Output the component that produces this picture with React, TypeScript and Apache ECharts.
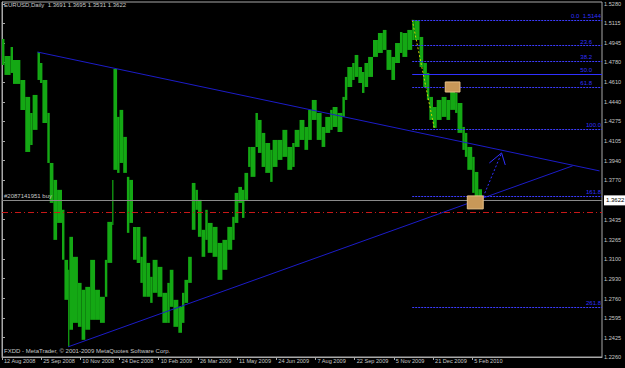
import React, { useEffect, useRef } from "react";
import * as echarts from "echarts";

// ---- price data (grouped daily bars: start bar index, high, low) ----
const barStart = [
  0, 2, 7, 9, 15, 19, 23, 25, 29, 31, 33, 37, 39, 42, 45, 49, 51, 54, 55, 58,
  62, 65, 68, 72, 76, 80, 84, 86, 90, 91, 94, 96, 99, 102, 104, 107, 110, 113, 115, 118,
  121, 123, 127, 131, 135, 137, 140, 144, 147, 149, 152, 155, 158, 160, 163, 166, 168, 172, 176, 180,
  184, 188, 190, 193, 196, 198, 201, 203, 207, 209, 212, 215, 219, 221, 225, 229, 233, 237, 239, 243,
  247, 250, 253, 257, 261, 264, 268, 270, 274, 278, 280, 282, 286, 288, 291, 294, 296, 299, 303, 307,
  311, 314, 318, 321, 325, 327, 331, 335, 337, 341, 344, 347, 349, 352, 355, 359, 363, 366, 370, 372,
  376, 378, 380, 384, 386, 389,
];
const lastBarEnd = 392;
const highs = [
  1.4981, 1.4835, 1.4912, 1.4801, 1.4630, 1.4485, 1.4348, 1.4502, 1.4869, 1.4775, 1.4630, 1.4348, 1.3920, 1.3775, 1.3690, 1.3519, 1.3091, 1.3006, 1.3288, 1.3117,
  1.2894, 1.2835, 1.2860, 1.3091, 1.2835, 1.2775, 1.3091, 1.3416, 1.3775, 1.4724, 1.4314, 1.4374, 1.4143, 1.3801, 1.3775, 1.3373, 1.3373, 1.3117, 1.3288, 1.3065,
  1.2946, 1.3091, 1.3031, 1.2809, 1.2894, 1.3006, 1.2749, 1.2689, 1.2809, 1.2920, 1.3117, 1.3749, 1.3690, 1.3604, 1.3348, 1.3519, 1.3407, 1.3373, 1.3236, 1.3262,
  1.3373, 1.3459, 1.3664, 1.3715, 1.3690, 1.3835, 1.4057, 1.4057, 1.4348, 1.4288, 1.4177, 1.4091, 1.4032, 1.4117, 1.4117, 1.4203, 1.4057, 1.4091, 1.4203, 1.4288,
  1.4228, 1.4374, 1.4459, 1.4348, 1.4228, 1.4314, 1.4374, 1.4399, 1.4348, 1.4485, 1.4656, 1.4741, 1.4775, 1.4844, 1.4741, 1.4698, 1.4775, 1.4827, 1.4972, 1.5032,
  1.5058, 1.4887, 1.4827, 1.4946, 1.5040, 1.5032, 1.5058, 1.5144, 1.5140, 1.4998, 1.4775, 1.4690, 1.4485, 1.4399, 1.4459, 1.4485, 1.4459, 1.4545, 1.4519, 1.4433,
  1.4228, 1.4177, 1.4057, 1.3972, 1.3843, 1.3695,
];
const lows = [
  1.4758, 1.4673, 1.4690, 1.4596, 1.4374, 1.4014, 1.4074, 1.4203, 1.4630, 1.4604, 1.4262, 1.3920, 1.3578, 1.3262, 1.3407, 1.3091, 1.2749, 1.2347, 1.2493, 1.2552,
  1.2518, 1.2407, 1.2493, 1.2578, 1.2578, 1.2552, 1.2775, 1.3065, 1.3390, 1.3861, 1.3835, 1.3920, 1.3835, 1.3322, 1.3407, 1.3091, 1.3065, 1.2894, 1.2775, 1.2775,
  1.2723, 1.2809, 1.2775, 1.2552, 1.2552, 1.2689, 1.2518, 1.2467, 1.2552, 1.2723, 1.2894, 1.3348, 1.3519, 1.3288, 1.3117, 1.3262, 1.3151, 1.3117, 1.2920, 1.3006,
  1.3177, 1.3262, 1.3407, 1.3578, 1.3450, 1.3604, 1.3886, 1.3801, 1.4057, 1.4006, 1.3886, 1.3835, 1.3758, 1.3886, 1.3946, 1.3972, 1.3861, 1.3886, 1.4057, 1.4117,
  1.4032, 1.4117, 1.4288, 1.4117, 1.4057, 1.4177, 1.4203, 1.4228, 1.4185, 1.4314, 1.4459, 1.4570, 1.4630, 1.4656, 1.4604, 1.4519, 1.4570, 1.4656, 1.4827, 1.4861,
  1.4887, 1.4716, 1.4630, 1.4775, 1.4861, 1.4827, 1.4887, 1.4972, 1.4972, 1.4741, 1.4570, 1.4459, 1.4288, 1.4220, 1.4288, 1.4314, 1.4288, 1.4374, 1.4348, 1.4177,
  1.4032, 1.3972, 1.3861, 1.3664, 1.3630, 1.3531,
];

// ---- axes ----
const dateTickBars = [0, 32, 64, 96, 128, 160, 192, 224, 256, 288, 320, 352, 384];
const dateTickLabels = [
  "12 Aug 2008", "25 Sep 2008", "10 Nov 2008", "24 Dec 2008", "10 Feb 2009", "26 Mar 2009", "11 May 2009",
  "24 Jun 2009", "7 Aug 2009", "22 Sep 2009", "5 Nov 2009", "21 Dec 2009", "5 Feb 2010",
];
const priceTicks = [
  1.2260, 1.2425, 1.2595, 1.2760, 1.2930, 1.3100, 1.3265, 1.3435, 1.3770, 1.3940, 1.4105,
  1.4275, 1.4440, 1.4610, 1.4780, 1.4945, 1.5115, 1.5280,
];
const priceMin = 1.2260;
const priceMax = 1.5297;
const barMax = 490;

// ---- objects on chart ----
const fibNames = ["0.0  1.5144", "23.6", "38.2", "50.0", "61.8", "100.0", "161.8", "261.8"];
const fibPrices = [1.5144, 1.4924, 1.4788, 1.4678, 1.4567, 1.4211, 1.3634, 1.2685];
const fibStartBar = 335;
const fibBase = [[335, 1.5144], [353, 1.4220]];
const bidPrice = 1.3622;
const orderPrice = 1.3644;
const stopPrice = 1.3524;
const orderLabel = "#2087141951 buy";
const trendDown = [[29, 1.4869], [488, 1.3852]];
const trendUp = [[54, 1.2347], [466, 1.3895]];
const arrowShaft = [[393, 1.3630], [408, 1.4006]];
const arrowHead = [[398, 1.3920], [408, 1.4006], [411, 1.3903]];
const boxes = [
  [362, 374, 1.4613, 1.4527],
  [380, 393, 1.3638, 1.3527],
];
const headerText = "EURUSD,Daily  1.3691 1.3695 1.3531 1.3622";
const footerText = "FXDD - MetaTrader, \u00A9 2001-2009 MetaQuotes Software Corp.";

const FONT = "Liberation Sans";
const GRAY = "#c8c8c8";
const BLUE = "#3c3cff";

export default function App() {
  const ref = useRef<HTMLDivElement>(null);
  useEffect(() => {
    if (!ref.current) return;
    const chart = echarts.init(ref.current, null, { renderer: "svg" });
    const barData = barStart.map((b, i) => [b, i + 1 < barStart.length ? barStart[i + 1] : lastBarEnd, highs[i], lows[i]]);

    const fibMarks = fibPrices.map((p, i) => {
      const solid = i === 3;
      const upperGroup = i >= 1 && i <= 4;
      return [
        {
          coord: [fibStartBar, p],
          lineStyle: { color: solid ? "#3030ff" : BLUE, type: solid ? "solid" : [2, 1], width: 1 },
          label: {
            show: true,
            position: "insideEndTop",
            formatter: fibNames[i],
            color: "#3030ff",
            fontSize: 6,
            fontFamily: FONT,
            distance: [upperGroup ? 10 : 1, 1],
          },
        },
        { coord: [barMax, p] },
      ];
    });

    const lineSeries = (data: number[][], color: string, type: any, z = 3) => ({
      type: "line",
      data,
      showSymbol: false,
      symbol: "none",
      silent: true,
      z,
      lineStyle: { color, width: 1, type },
    });

    chart.setOption({
      animation: false,
      backgroundColor: "#000000",
      grid: {
        left: 2,
        right: 23,
        top: 2,
        bottom: 11,
        show: true,
        borderColor: "#a8a8a8",
        borderWidth: 1,
        backgroundColor: "#000000",
      },
      xAxis: {
        type: "value",
        min: 0,
        max: barMax,
        splitLine: { show: false },
        axisLine: { show: true, onZero: false, lineStyle: { color: "#a8a8a8" } },
        axisTick: { show: true, customValues: dateTickBars, length: 3, lineStyle: { color: "#a8a8a8" } },
        axisLabel: {
          customValues: dateTickBars,
          formatter: (v: number) => {
            const k = dateTickBars.indexOf(Math.round(v));
            return k >= 0 ? dateTickLabels[k] : "";
          },
          align: "left",
          margin: 1,
          padding: [0, 0, 0, 2],
          color: GRAY,
          fontSize: 5.6,
          fontFamily: FONT,
        },
      },
      yAxis: {
        type: "value",
        position: "right",
        min: priceMin,
        max: priceMax,
        scale: true,
        splitLine: { show: false },
        axisLine: { show: true, lineStyle: { color: "#a8a8a8" } },
        axisTick: { show: true, customValues: priceTicks, length: 3, lineStyle: { color: "#a8a8a8" } },
        axisLabel: {
          customValues: priceTicks,
          formatter: (v: number) => v.toFixed(4),
          margin: 2,
          color: GRAY,
          fontSize: 5.6,
          fontFamily: FONT,
        },
      },
      graphic: [
        {
          type: "text",
          left: 4,
          top: 2,
          style: { text: headerText, fill: GRAY, fontSize: 6, fontFamily: FONT },
        },
        {
          type: "text",
          left: 4,
          top: 348,
          style: { text: footerText, fill: GRAY, fontSize: 6, fontFamily: FONT },
        },
      ],
      series: [
        {
          type: "custom",
          name: "EURUSD",
          data: barData,
          clip: true,
          z: 2,
          renderItem: (params: any, api: any) => {
            const p1 = api.coord([api.value(0), api.value(2)]);
            const p2 = api.coord([api.value(1), api.value(3)]);
            return {
              type: "rect",
              shape: { x: p1[0], y: p1[1], width: Math.max(1, p2[0] - p1[0]), height: Math.max(1, p2[1] - p1[1]) },
              style: { fill: "#14a814" },
            };
          },
          markLine: {
            symbol: "none",
            silent: true,
            animation: false,
            data: [
              ...fibMarks,
              {
                yAxis: orderPrice,
                lineStyle: { color: "#20c820", type: [6, 3], width: 1.2 },
                label: {
                  show: true,
                  position: "insideStartTop",
                  formatter: orderLabel,
                  color: GRAY,
                  fontSize: 6,
                  fontFamily: FONT,
                  distance: [2, 1],
                },
              },
              {
                yAxis: stopPrice,
                lineStyle: { color: "#c81818", type: [6, 3, 1, 3], width: 1 },
                label: { show: false },
              },
              {
                yAxis: bidPrice,
                lineStyle: { color: "#8a8a8a", type: "solid", width: 1 },
                label: {
                  show: true,
                  position: "end",
                  formatter: bidPrice.toFixed(4),
                  backgroundColor: "#ffffff",
                  color: "#000000",
                  fontSize: 6,
                  fontFamily: FONT,
                  padding: [2, 2, 2, 2],
                  distance: 2,
                },
              },
            ],
          },
        },
        lineSeries(trendDown, "#1c1cc8", "solid"),
        lineSeries(trendUp, "#1c1cc8", "solid"),
        lineSeries(arrowShaft, "#3030ff", [2, 2]),
        lineSeries(arrowHead, "#3030ff", "solid"),
        lineSeries(fibBase, "#d0d000", [2, 2]),
        {
          type: "custom",
          name: "boxes",
          data: boxes,
          z: 5,
          renderItem: (params: any, api: any) => {
            const p1 = api.coord([api.value(0), api.value(2)]);
            const p2 = api.coord([api.value(1), api.value(3)]);
            return {
              type: "rect",
              shape: { x: p1[0], y: p1[1], width: p2[0] - p1[0], height: p2[1] - p1[1] },
              style: { fill: "#c89858", stroke: "#e8c088", lineWidth: 1 },
            };
          },
        },
      ],
    });
    return () => chart.dispose();
  }, []);
  return <div ref={ref} style={{ position: "fixed", left: 0, top: 0, width: 625, height: 368 }} />;
}
